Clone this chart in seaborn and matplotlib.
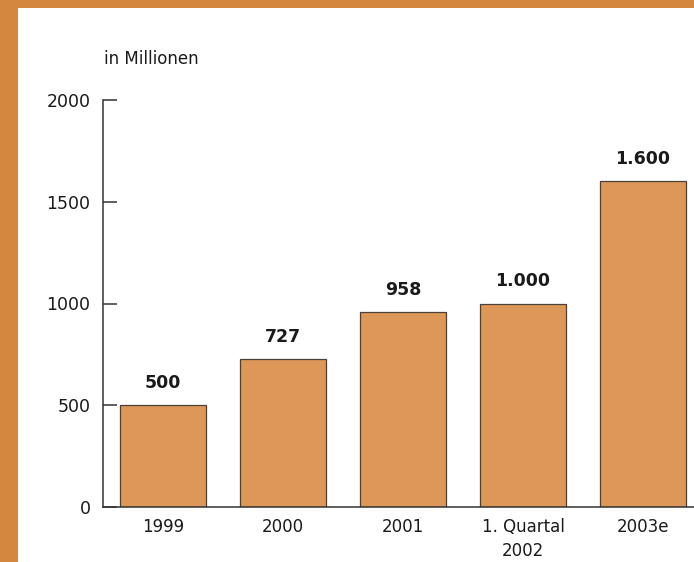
import matplotlib
matplotlib.use("Agg")
import matplotlib.pyplot as plt
import pandas as pd
import seaborn as sns
from matplotlib.patches import Rectangle

# Data
categories = ["1999", "2000", "2001", "1. Quartal\n2002", "2003e"]
values = [500, 727, 958, 1000, 1600]
value_labels = ["500", "727", "958", "1.000", "1.600"]
y_ticks = [0, 500, 1000, 1500, 2000]

BAR_COLOR = "#DD9758"
BORDER_COLOR = "#D4883F"
TEXT_COLOR = "#1a1a1a"

sns.set_theme(style="white")
plt.rcParams["font.family"] = ["DejaVu Sans"]

df = pd.DataFrame({"cat": categories, "val": values})

fig = plt.figure(figsize=(6.94, 5.62), dpi=100)
fig.patch.set_facecolor("white")

# orange frame on left and top
fig.patches.append(Rectangle((0, 0), 18 / 694, 1, transform=fig.transFigure,
                             facecolor=BORDER_COLOR, edgecolor="none", zorder=0))
fig.patches.append(Rectangle((0, 1 - 8 / 562), 1, 8 / 562, transform=fig.transFigure,
                             facecolor=BORDER_COLOR, edgecolor="none", zorder=0))

ax = fig.add_axes([103 / 694, 55 / 562, 591 / 694, 407 / 562])
ax.set_facecolor("none")

sns.barplot(data=df, x="cat", y="val", color=BAR_COLOR, width=0.72,
            edgecolor="#4a4038", linewidth=0.9, saturation=1, ax=ax)

for i, (v, lab) in enumerate(zip(values, value_labels)):
    ax.text(i, v + 65, lab, ha="center", va="bottom", fontsize=12.5,
            fontweight="bold", color=TEXT_COLOR)

ax.set_xlim(-0.5, 4.425)
ax.set_ylim(0, 2000)
ax.set_yticks(y_ticks)
ax.set_yticklabels([str(t) for t in y_ticks], fontsize=12.5, color=TEXT_COLOR)
ax.set_xticks(range(len(categories)))
ax.set_xticklabels(categories, fontsize=12, color=TEXT_COLOR, linespacing=1.45)
ax.set_xticks([0.5, 1.5, 2.5, 3.5], minor=True)
ax.tick_params(axis="x", which="major", length=0, pad=8)
ax.tick_params(axis="x", which="minor", direction="in", length=7, width=1.1,
               color="#333333")
ax.tick_params(axis="y", direction="in", length=10, width=1.1, color="#333333",
               pad=9, left=True)
ax.set_xlabel("")
ax.set_ylabel("")

for side in ["top", "right"]:
    ax.spines[side].set_visible(False)
for side in ["left", "bottom"]:
    ax.spines[side].set_color("#333333")
    ax.spines[side].set_linewidth(1.1)

fig.text(104 / 694, 1 - 59 / 562, "in Millionen", fontsize=12, color=TEXT_COLOR,
         va="center", ha="left")

fig.savefig("out.png", dpi=100)
